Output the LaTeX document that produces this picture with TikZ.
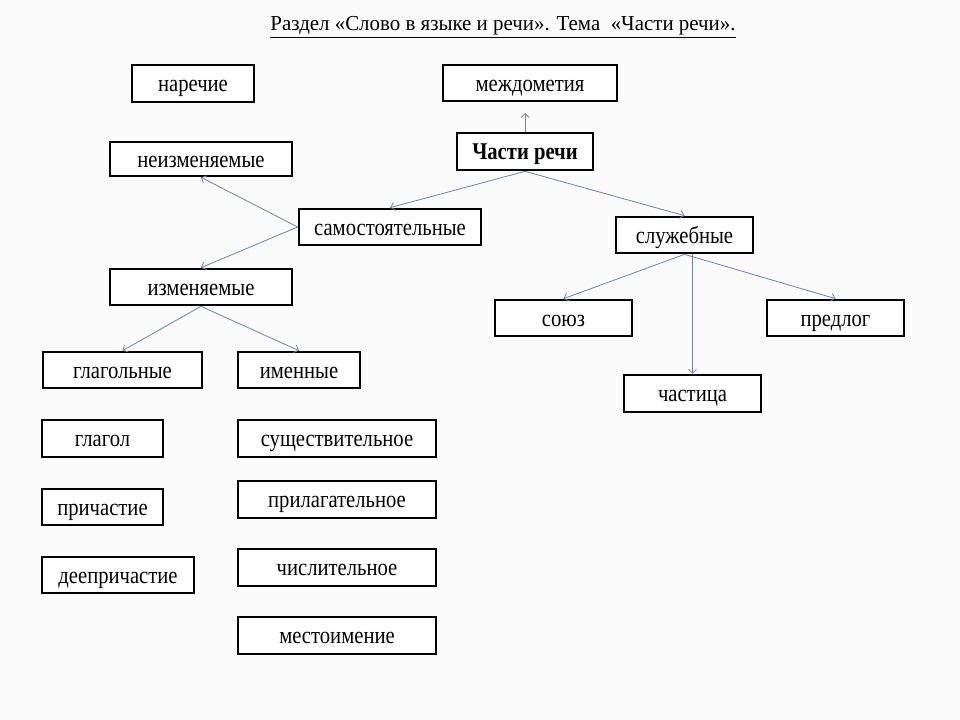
\documentclass[tikz,border=0pt]{standalone}
\usepackage{fontspec}
\setmainfont[FakeStretch=0.86]{Liberation Serif}
\newfontfamily\titlefont[FakeStretch=0.98]{Liberation Serif}
\usetikzlibrary{arrows.meta}
\definecolor{conncol}{RGB}{112,128,168}
\definecolor{bgcol}{RGB}{251,251,251}
\tikzset{
  box/.style={draw=black, line width=2pt, rectangle, inner sep=0pt, fill=white,
    text height=12.3pt, text depth=0pt,
    font=\fontsize{18}{20}\selectfont},
  conn/.style={draw=conncol, line width=0.6pt, -{Straight Barb[length=3pt,width=6pt]}},
}
\newcommand{\bx}[6]{%
  \node[box, minimum width={(#4-#2)*0.75pt}, minimum height={(#5-#3)*0.75pt}]
    (#1) at ({(#2+#4)/2},{(#3+#5)/2}) {#6};}
\begin{document}
\begin{tikzpicture}[x=0.75pt,y=-0.75pt]
\fill[bgcol] (0,0) rectangle (960,720);
\useasboundingbox (0,0) rectangle (960,720);
\node[anchor=base, font=\titlefont\fontsize{16}{18}\selectfont] (title) at (503,31)
  {\underline{Раздел «Слово в языке и речи». Тема \ «Части речи».}};
\bx{nar}{132}{65}{254}{102}{наречие}
\bx{mezh}{443}{65}{617}{101}{междометия}
\bx{neizm}{110}{142}{292}{176}{неизменяемые}
\bx{chasti}{457}{133}{593}{170}{\bfseries Части речи}
\bx{samost}{299}{209}{481}{245}{самостоятельные}
\bx{sluzh}{616}{217}{753}{253}{служебные}
\bx{izm}{110}{269}{292}{305}{изменяемые}
\bx{soyuz}{495}{300}{632}{336}{союз}
\bx{predlog}{767}{300}{904}{336}{предлог}
\bx{chastica}{624}{375}{761}{412}{частица}
\bx{glagolnye}{43}{352}{202}{388}{глагольные}
\bx{imennye}{238}{352}{360}{388}{именные}
\bx{glagol}{42}{420}{163}{457}{глагол}
\bx{sushch}{238}{420}{436}{457}{существительное}
\bx{prich}{42}{489}{163}{525}{причастие}
\bx{prilag}{238}{481}{436}{518}{прилагательное}
\bx{deepr}{42}{557}{194}{593}{деепричастие}
\bx{chisl}{238}{549}{436}{586}{числительное}
\bx{mest}{238}{617}{436}{654}{местоимение}
% connectors
\draw[conn, shorten >=8pt] (chasti.north) -- (chasti.north |- mezh.south);
\draw[conn] (chasti.south) -- (samost.north);
\draw[conn] (chasti.south) -- (sluzh.north);
\draw[conn] (samost.west) -- (neizm.south);
\draw[conn] (samost.west) -- (izm.north);
\draw[conn] (izm.south) -- (glagolnye.north);
\draw[conn] (izm.south) -- (imennye.north);
\draw[conn] (sluzh.south) -- (soyuz.north);
\draw[conn] (sluzh.south) -- (predlog.north);
\draw[conn] (sluzh.south -| chastica.north) -- (chastica.north);
\end{tikzpicture}
\end{document}
